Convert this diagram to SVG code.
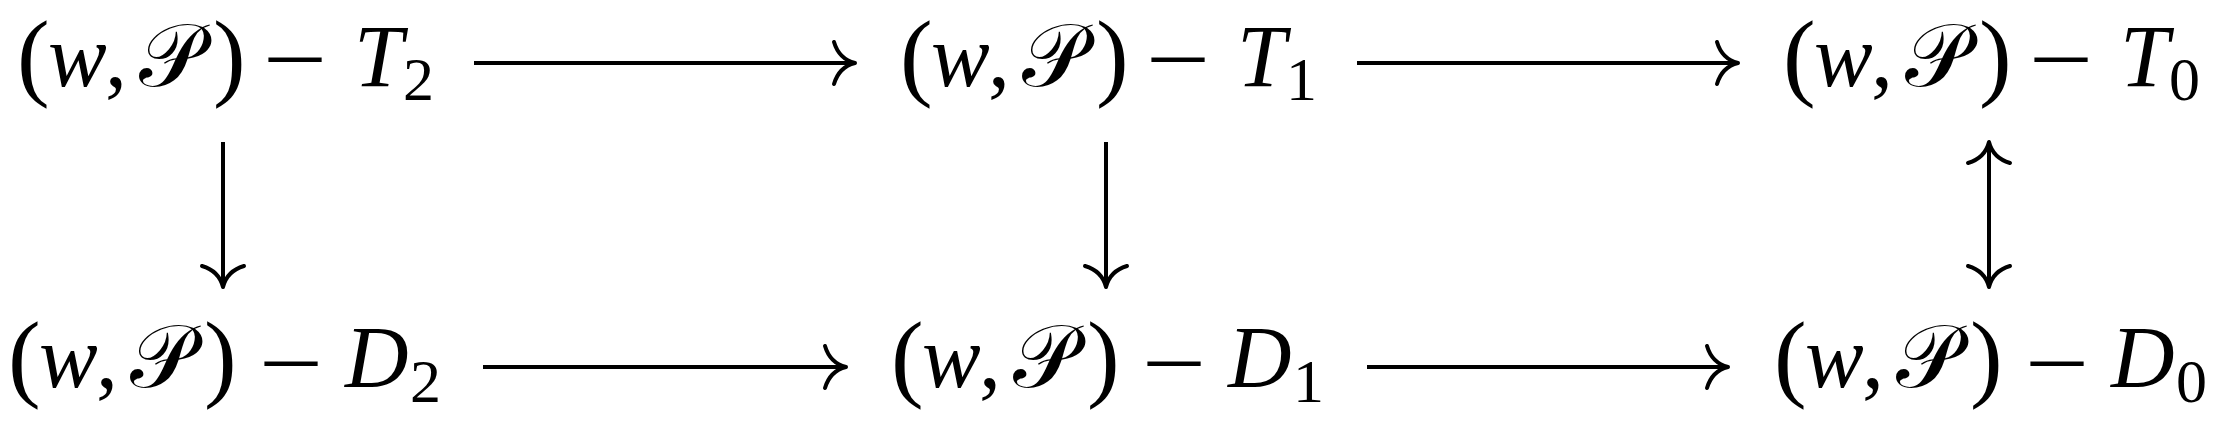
<svg xmlns="http://www.w3.org/2000/svg" width="2226" height="430" viewBox="0 0 2226 430">
<style>
text { font-family: "Liberation Serif", "DejaVu Serif", serif; font-size: 88px; fill: #000; }
.it { font-style: italic; }
.par { font-size: 98px; }
.sub { font-size: 62px; }
.cal { font-family: "DejaVu Serif", "DejaVu Sans", "Liberation Serif", serif; font-style: normal; }
.conn line { stroke: #000; stroke-width: 4; fill: none; }
</style>
<defs>
<marker id="ah" viewBox="-25 -25 30 50" refX="0" refY="0" markerWidth="30" markerHeight="50" markerUnits="userSpaceOnUse" orient="auto-start-reverse" overflow="visible">
<path d="M -21 -21 Q -16 -4 0 0 Q -16 4 -21 21" fill="none" stroke="#000" stroke-width="4" stroke-linecap="round" stroke-linejoin="round"/>
</marker>
</defs>

<g id="T2" transform="translate(223,0)">
<text y="86"><tspan class="par" x="-206" y="88">(</tspan><tspan class="it" x="-175" y="86">w</tspan><tspan x="-118">,</tspan><tspan class="cal" x="-84">𝒫</tspan><tspan class="par" x="-10" y="88">)</tspan></text>
<text class="min" transform="translate(40,89) scale(1.3,1)">−</text>
<text y="86"><tspan class="it" x="131">T</tspan><tspan class="sub" x="180" y="100">2</tspan></text>
</g>
<g id="T1" transform="translate(1106,0)">
<text y="86"><tspan class="par" x="-206" y="88">(</tspan><tspan class="it" x="-175" y="86">w</tspan><tspan x="-118">,</tspan><tspan class="cal" x="-84">𝒫</tspan><tspan class="par" x="-10" y="88">)</tspan></text>
<text class="min" transform="translate(40,89) scale(1.3,1)">−</text>
<text y="86"><tspan class="it" x="131">T</tspan><tspan class="sub" x="180" y="100">1</tspan></text>
</g>
<g id="T0" transform="translate(1989,0)">
<text y="86"><tspan class="par" x="-206" y="88">(</tspan><tspan class="it" x="-175" y="86">w</tspan><tspan x="-118">,</tspan><tspan class="cal" x="-84">𝒫</tspan><tspan class="par" x="-10" y="88">)</tspan></text>
<text class="min" transform="translate(40,89) scale(1.3,1)">−</text>
<text y="86"><tspan class="it" x="131">T</tspan><tspan class="sub" x="180" y="100">0</tspan></text>
</g>

<g id="D2" transform="translate(223,0)">
<text y="387"><tspan class="par" x="-215" y="389">(</tspan><tspan class="it" x="-184" y="387">w</tspan><tspan x="-127">,</tspan><tspan class="cal" x="-93">𝒫</tspan><tspan class="par" x="-19" y="389">)</tspan></text>
<text class="min" transform="translate(36,393) scale(1.3,1)">−</text>
<text y="387"><tspan class="it" x="122">D</tspan><tspan class="sub" x="187" y="402">2</tspan></text>
</g>
<g id="D1" transform="translate(1106,0)">
<text y="387"><tspan class="par" x="-215" y="389">(</tspan><tspan class="it" x="-184" y="387">w</tspan><tspan x="-127">,</tspan><tspan class="cal" x="-93">𝒫</tspan><tspan class="par" x="-19" y="389">)</tspan></text>
<text class="min" transform="translate(36,393) scale(1.3,1)">−</text>
<text y="387"><tspan class="it" x="122">D</tspan><tspan class="sub" x="187" y="402">1</tspan></text>
</g>
<g id="D0" transform="translate(1989,0)">
<text y="387"><tspan class="par" x="-215" y="389">(</tspan><tspan class="it" x="-184" y="387">w</tspan><tspan x="-127">,</tspan><tspan class="cal" x="-93">𝒫</tspan><tspan class="par" x="-19" y="389">)</tspan></text>
<text class="min" transform="translate(36,393) scale(1.3,1)">−</text>
<text y="387"><tspan class="it" x="122">D</tspan><tspan class="sub" x="187" y="402">0</tspan></text>
</g>

<g id="connectors" class="conn">
<line x1="474" y1="63" x2="855" y2="63" marker-end="url(#ah)"/>
<line x1="1357" y1="63" x2="1738" y2="63" marker-end="url(#ah)"/>
<line x1="483" y1="367" x2="846" y2="367" marker-end="url(#ah)"/>
<line x1="1367" y1="367" x2="1728" y2="367" marker-end="url(#ah)"/>
<line x1="223" y1="142" x2="223" y2="287" marker-end="url(#ah)"/>
<line x1="1106" y1="142" x2="1106" y2="287" marker-end="url(#ah)"/>
<line x1="1989" y1="142" x2="1989" y2="287" marker-start="url(#ah)" marker-end="url(#ah)"/>
</g>
</svg>
